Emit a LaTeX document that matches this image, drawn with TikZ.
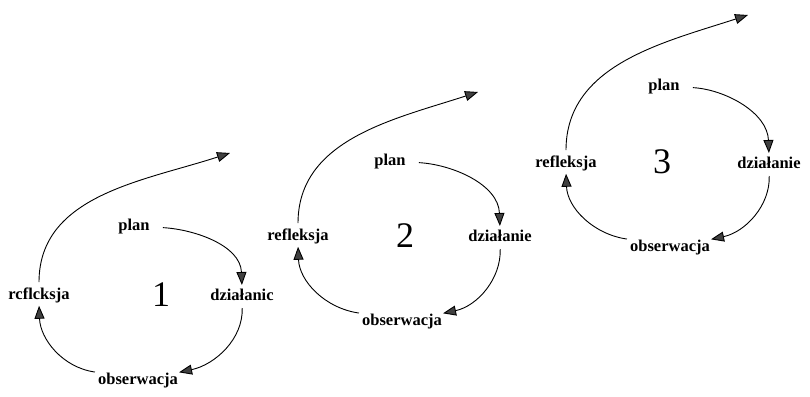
\documentclass[tikz,border=0pt]{standalone}
\usepackage{fontspec}
\setmainfont{Liberation Serif}
\usetikzlibrary{arrows.meta}
\tikzset{
  lbl/.style={font=\fontsize{16.5}{18}\selectfont\bfseries, inner sep=1pt},
  num/.style={font=\fontsize{36}{40}\selectfont, inner sep=0pt},
  flow/.style={line width=0.9pt, -{Triangle[length=13pt,width=10pt,fill=black!75]}},
}
\begin{document}
\begin{tikzpicture}[x=1pt,y=-1pt]
\useasboundingbox (0,0) rectangle (810,396);

% cycle 1
\node[lbl] (p1) at (134,227) {plan};
\node[lbl] (d1) at (242,295) {działanic};
\node[lbl] (r1) at (39,295) {rcflcksja};
\node[num] (n1) at (161,295) {1};
\node[lbl] (o1) at (138,381) {obserwacja};
\coordinate (e1) at (230,153);

% cycle 2
\node[lbl] (p2) at (390,162) {plan};
\node[lbl] (d2) at (500,236) {działanie};
\node[lbl] (r2) at (298,236) {refleksja};
\node[num] (n2) at (405,236) {2};
\node[lbl] (o2) at (402,322) {obserwacja};
\coordinate (e2) at (478,92);

% cycle 3
\node[lbl] (p3) at (664,87) {plan};
\node[lbl] (d3) at (769,163) {działanie};
\node[lbl] (r3) at (566,163) {refleksja};
\node[num] (n3) at (662,162) {3};
\node[lbl] (o3) at (670,248) {obserwacja};
\coordinate (e3) at (748,15);

% the loops: plan -> działanie -> obserwacja -> refleksja -> next cycle
\foreach \i in {1,2,3}{
  \draw[flow, shorten <=12pt, shorten >=3pt] (p\i.east) to[out=-3,in=92] (d\i.north);
  \draw[flow, shorten <=6pt] (d\i.south) to[out=-88,in=12] (o\i.north east);
  \draw[flow, shorten <=2pt, shorten >=2pt] (o\i.north west) to[out=172,in=-88] (r\i.south);
  \draw[flow, shorten <=4pt] (r\i.north) to[out=90,in=198] (e\i);
}
\end{tikzpicture}
\end{document}
